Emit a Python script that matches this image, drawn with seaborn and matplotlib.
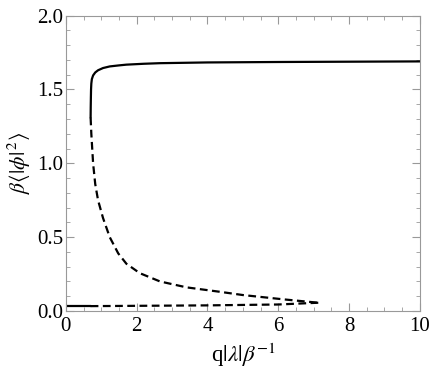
import matplotlib
matplotlib.use("Agg")
import matplotlib.pyplot as plt
import pandas as pd
import seaborn as sns
from matplotlib.ticker import MultipleLocator

# stable upper branch (solid)
upper_x = [0.70, 0.703, 0.707, 0.712, 0.72, 0.735, 0.77, 0.83, 0.91, 1.05, 1.24,
           1.5, 1.71, 2.2, 2.66, 4.0, 6.0, 8.0, 10.0]
upper_y = [1.31, 1.38, 1.44, 1.50, 1.54, 1.57, 1.595, 1.615, 1.63, 1.645, 1.656,
           1.663, 1.668, 1.674, 1.678, 1.683, 1.686, 1.688, 1.69]

# unstable middle branch (dashed)
mid_x = [0.70, 0.72, 0.77, 0.83, 0.91, 1.05, 1.24, 1.48, 1.71, 2.09, 2.66,
         3.41, 4.35, 5.0, 6.14, 7.13]
mid_y = [1.31, 1.20, 1.00, 0.86, 0.75, 0.63, 0.50, 0.39, 0.32, 0.256, 0.20,
         0.16, 0.13, 0.108, 0.079, 0.056]

# lower branch: solid part then dashed part
low_solid_x = [0.0, 0.70]
low_solid_y = [0.033, 0.033]
low_dash_x = [0.70, 2.0, 4.0, 6.0, 7.13]
low_dash_y = [0.033, 0.035, 0.038, 0.044, 0.056]

x_ticks = [0, 2, 4, 6, 8, 10]
x_labels = ["0", "2", "4", "6", "8", "10"]
y_ticks = [0, 0.5, 1.0, 1.5, 2.0]
y_labels = ["0.0", "0.5", "1.0", "1.5", "2.0"]

sns.set_style("ticks")
plt.rcParams["font.family"] = ["Liberation Serif", "DejaVu Serif"]
plt.rcParams["mathtext.fontset"] = "stix"
plt.rcParams["text.color"] = "black"
plt.rcParams["axes.labelcolor"] = "black"

fig = plt.figure(figsize=(4.36, 3.72), dpi=100)
ax = fig.add_axes([0.151, 0.164, 0.812, 0.794])

df_up = pd.DataFrame({"x": upper_x, "y": upper_y})
df_mid = pd.DataFrame({"x": mid_x, "y": mid_y})
df_ls = pd.DataFrame({"x": low_solid_x, "y": low_solid_y})
df_ld = pd.DataFrame({"x": low_dash_x, "y": low_dash_y})

sns.lineplot(data=df_up, x="x", y="y", sort=False, color="black", lw=1.6, ax=ax)
sns.lineplot(data=df_ls, x="x", y="y", sort=False, color="black", lw=1.6, ax=ax)
sns.lineplot(data=df_mid, x="x", y="y", sort=False, color="black", lw=1.6,
             dashes=(3.5, 2.0), ax=ax)
sns.lineplot(data=df_ld, x="x", y="y", sort=False, color="black", lw=1.6,
             dashes=(3.5, 2.0), ax=ax)

ax.set_xlim(0, 10)
ax.set_ylim(0, 2.0)
ax.set_xticks(x_ticks)
ax.set_xticklabels(x_labels)
ax.set_yticks(y_ticks)
ax.set_yticklabels(y_labels)
ax.xaxis.set_minor_locator(MultipleLocator(0.5))
ax.yaxis.set_minor_locator(MultipleLocator(0.1))

for s in ax.spines.values():
    s.set_color("#999999")
    s.set_linewidth(0.8)
ax.tick_params(which="both", direction="in", top=True, right=True,
               color="#999999", labelcolor="black", labelsize=15)
ax.tick_params(axis="y", pad=2)
ax.tick_params(axis="x", pad=4)
ax.tick_params(which="major", length=6, width=0.8)
ax.tick_params(which="minor", length=3, width=0.6)

ax.set_xlabel(r"q$|\lambda|\beta^{-1}$", fontsize=16.5, labelpad=4)
ax.set_ylabel(r"$\beta\langle|\phi|^{\,2}\rangle$", fontsize=15.5, labelpad=3)

fig.savefig("out.png", dpi=100)
